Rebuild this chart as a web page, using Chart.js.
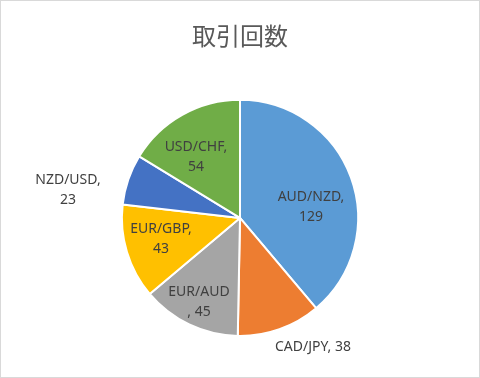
<!DOCTYPE html>
<html lang="ja">
<head>
    <meta charset="UTF-8">
    <title>取引回数</title>
    <script src="https://cdn.jsdelivr.net/npm/chart.js@4.4.1/dist/chart.umd.min.js"></script>
    <style>
        body { margin: 0; background: #fff; }
        .wrap { width: 480px; height: 378px; position: relative; }
    </style>
</head>
<body>
    <div class="wrap">
        <canvas id="grafica" width="480" height="378"></canvas>
    </div>

    <script>
        // datos
        const pares = ["AUD/NZD", "CAD/JPY", "EUR/AUD", "EUR/GBP", "NZD/USD", "USD/CHF"];
        const operaciones = [129, 38, 45, 43, 23, 54];
        const colores = ["#5B9BD5", "#ED7D31", "#A5A5A5", "#FFC000", "#4472C4", "#70AD47"];

        // texto de cada etiqueta (como en Excel, algunas parten en dos lineas)
        const etiquetas = [
            ["AUD/NZD,", "129"],
            ["CAD/JPY, 38"],
            ["EUR/AUD", ", 45"],
            ["EUR/GBP,", "43"],
            ["NZD/USD,", "23"],
            ["USD/CHF,", "54"]
        ];
        // desplazamiento de la etiqueta respecto al centro del pastel
        const desplazamientos = [[71, -11], [73, 129], [-41, 84], [-79, 21], [-172, -28], [-44, -61]];

        const etiquetasPlugin = {
            id: "etiquetas",
            afterDatasetsDraw(chart) {
                const ctx = chart.ctx;
                const arcos = chart.getDatasetMeta(0).data;
                ctx.save();
                ctx.fillStyle = "#404040";
                ctx.font = "14px 'Noto Sans', sans-serif";
                ctx.textAlign = "center";
                ctx.textBaseline = "middle";
                arcos.forEach((arco, i) => {
                    const cx = arco.x + desplazamientos[i][0];
                    const cy = arco.y + desplazamientos[i][1];
                    const lineas = etiquetas[i];
                    const alto = 20;
                    lineas.forEach((linea, j) => {
                        const y = cy + (j - (lineas.length - 1) / 2) * alto;
                        ctx.fillText(linea, cx, y);
                    });
                });
                ctx.restore();
            },
            afterDraw(chart) {
                const ctx = chart.ctx;
                ctx.save();
                ctx.strokeStyle = "#D9D9D9";
                ctx.lineWidth = 1;
                ctx.strokeRect(0.5, 0.5, chart.width - 1, chart.height - 1);
                ctx.restore();
            }
        };

        new Chart(document.querySelector("#grafica"), {
            type: "pie",
            data: {
                labels: pares,
                datasets: [{
                    data: operaciones,
                    backgroundColor: colores,
                    borderColor: "#FFFFFF",
                    borderWidth: 2
                }]
            },
            options: {
                responsive: false,
                animation: false,
                layout: { padding: { top: 0, bottom: 41 } },
                plugins: {
                    legend: { display: false },
                    tooltip: { enabled: false },
                    title: {
                        display: true,
                        text: "取引回数",
                        color: "#595959",
                        font: { family: "'Noto Sans CJK JP', sans-serif", size: 24, weight: "normal" },
                        padding: { top: 21, bottom: 49 }
                    }
                }
            },
            plugins: [etiquetasPlugin]
        });
    </script>
</body>
</html>
